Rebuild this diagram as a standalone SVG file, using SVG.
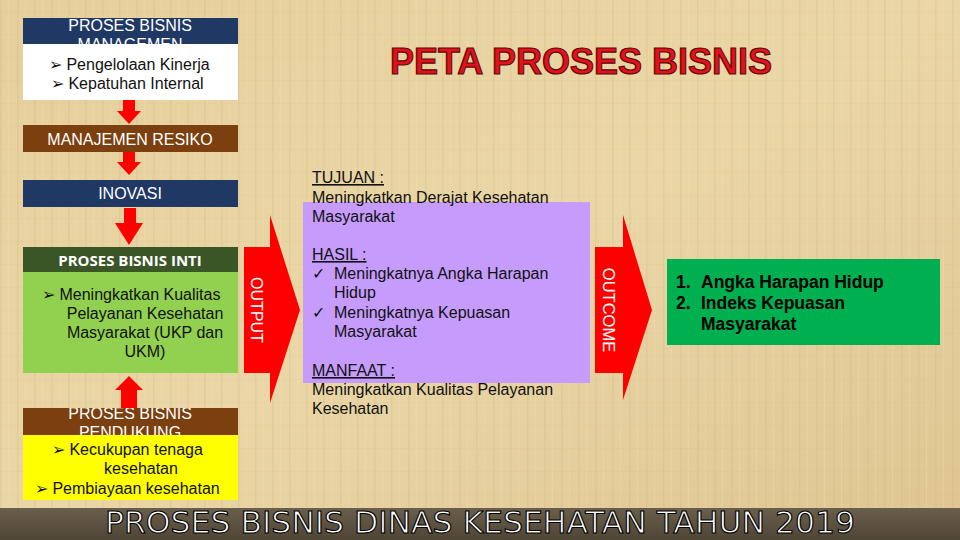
<svg xmlns="http://www.w3.org/2000/svg" width="960" height="540" viewBox="0 0 960 540">
<defs>
<style>
.t{font-family:"Liberation Sans",Arial,sans-serif;font-size:16px;fill:#111}
.w{font-family:"Liberation Sans",Arial,sans-serif;font-size:16px;fill:#fff}
.c{text-anchor:middle}
.u{text-decoration:underline}
.b{font-family:"Liberation Sans",Arial,sans-serif;font-size:17.5px;font-weight:bold;fill:#000}
.arr{fill:#ff0000}
</style>
<linearGradient id="bg" x1="0" y1="0" x2="1" y2="1">
<stop offset="0" stop-color="#e6cf9c"/>
<stop offset="0.5" stop-color="#ead6a6"/>
<stop offset="1" stop-color="#dec591"/>
</linearGradient>
<pattern id="tex" width="17" height="23" patternUnits="userSpaceOnUse">
<rect x="0" y="0" width="1.5" height="23" fill="#c9ad74" opacity="0.22"/>
<rect x="8" y="0" width="1" height="23" fill="#f3e3b8" opacity="0.3"/>
<rect x="0" y="11" width="17" height="1" fill="#cdb27a" opacity="0.1"/>
</pattern>
<linearGradient id="ban" x1="0" y1="0" x2="0" y2="1">
<stop offset="0" stop-color="#6a5f4c"/>
<stop offset="1" stop-color="#4f4535"/>
</linearGradient>
<clipPath id="c1"><rect x="23" y="18" width="215" height="26"/></clipPath>
<clipPath id="c2"><rect x="23" y="408" width="215" height="27"/></clipPath>
</defs>
<rect width="960" height="540" fill="url(#bg)"/>
<rect width="960" height="540" fill="url(#tex)"/>

<g id="title">
<text x="581" y="74" text-anchor="middle" textLength="382" lengthAdjust="spacingAndGlyphs" font-family="Liberation Sans,Arial,sans-serif" font-weight="bold" font-size="37" fill="#e4101a" stroke="#5a0a0a" stroke-width="1.2">PETA PROSES BISNIS</text>
</g>

<g id="connectors">
<polygon class="arr" points="123,100 135,100 135,111 141,111 129,124 117,111 123,111"/>
<polygon class="arr" points="123,152 135,152 135,162 141,162 129,175 117,162 123,162"/>
<polygon class="arr" points="124,208 136,208 136,223 143,223 129,245 115,223 124,223"/>
<polygon class="arr" points="129,376 143,390 137,390 137,408 121,408 121,390 115,390"/>
</g>

<g id="node-manajemen">
<rect x="23" y="18" width="215" height="26" fill="#1f3864"/>
<g clip-path="url(#c1)">
<text class="w c" x="130" y="31">PROSES BISNIS</text>
<text class="w c" x="130" y="50">MANAGEMEN</text>
</g>
<rect x="23" y="44" width="215" height="56" fill="#fff"/>
<text class="t" x="49" y="70">➢ Pengelolaan Kinerja</text>
<text class="t" x="51" y="89">➢ Kepatuhan Internal</text>
</g>

<g id="node-resiko">
<rect x="23" y="125" width="215" height="27" fill="#7b3f10"/>
<text class="w c" x="130" y="145">MANAJEMEN RESIKO</text>
</g>

<g id="node-inovasi">
<rect x="23" y="180" width="215" height="27" fill="#1f3864"/>
<text class="w c" x="130" y="199">INOVASI</text>
</g>

<g id="node-inti">
<rect x="23" y="247" width="215" height="25" fill="#3a5526"/>
<text class="c" x="130" y="266" font-family="Open Sans,Liberation Sans,sans-serif" font-weight="bold" font-size="15" fill="#fff">PROSES BISNIS INTI</text>
<rect x="23" y="272" width="215" height="101" fill="#92d050"/>
<text class="t" x="42" y="300">➢  Meningkatkan Kualitas</text>
<text class="t c" x="145" y="319">Pelayanan Kesehatan</text>
<text class="t c" x="145" y="338">Masyarakat (UKP dan</text>
<text class="t c" x="145" y="357">UKM)</text>
</g>

<g id="node-pendukung">
<rect x="23" y="408" width="215" height="27" fill="#7b3f10"/>
<g clip-path="url(#c2)">
<text class="w c" x="130" y="419">PROSES BISNIS</text>
<text class="w c" x="130" y="438">PENDUKUNG</text>
</g>
<rect x="23" y="435" width="215" height="65" fill="#ffff00"/>
<text class="t" x="52" y="455">➢ Kecukupan tenaga</text>
<text class="t c" x="141" y="474">kesehatan</text>
<text class="t" x="35" y="494">➢ Pembiayaan kesehatan</text>
</g>

<g id="node-output">
<polygon fill="#ff0000" points="244,247 270,247 270,215 300,310 270,403 270,373 244,373"/>
<text x="257" y="310" text-anchor="middle" transform="rotate(90 257 310)" font-family="Liberation Sans,Arial,sans-serif" font-size="16" fill="#fff" dy="6">OUTPUT</text>
</g>

<g id="node-hasil">
<rect x="303" y="202" width="287" height="181" fill="#c59bfb"/>
<text class="t u" x="312" y="183">TUJUAN :</text>
<text class="t" x="312" y="203">Meningkatkan Derajat Kesehatan</text>
<text class="t" x="312" y="222">Masyarakat</text>
<text class="t u" x="312" y="260">HASIL :</text>
<text class="t" x="312" y="279">✓</text>
<text class="t" x="334" y="279">Meningkatnya Angka Harapan</text>
<text class="t" x="334" y="298">Hidup</text>
<text class="t" x="312" y="318">✓</text>
<text class="t" x="334" y="318">Meningkatnya Kepuasan</text>
<text class="t" x="334" y="337">Masyarakat</text>
<text class="t u" x="312" y="376">MANFAAT :</text>
<text class="t" x="312" y="395">Meningkatkan Kualitas Pelayanan</text>
<text class="t" x="312" y="414">Kesehatan</text>
</g>

<g id="node-outcome">
<polygon fill="#ff0000" points="595,247 623,247 623,215 652,310 623,400 623,373 595,373"/>
<text x="609" y="310" text-anchor="middle" transform="rotate(90 609 310)" font-family="Liberation Sans,Arial,sans-serif" font-size="16.5" fill="#fff" dy="6">OUTCOME</text>
</g>

<g id="node-indikator">
<rect x="667" y="259" width="273" height="86" fill="#00b050"/>
<text class="b" x="676" y="288">1.</text>
<text class="b" x="701" y="288">Angka Harapan Hidup</text>
<text class="b" x="676" y="309">2.</text>
<text class="b" x="701" y="309">Indeks Kepuasan</text>
<text class="b" x="701" y="330">Masyarakat</text>
</g>

<g id="banner">
<rect x="0" y="508" width="960" height="32" fill="url(#ban)"/>
<text x="105" y="533" textLength="750" lengthAdjust="spacingAndGlyphs" font-family="DejaVu Sans,sans-serif" font-stretch="condensed" font-size="30" fill="#fff" stroke="#000" stroke-width="1">PROSES BISNIS DINAS KESEHATAN TAHUN 2019</text>
</g>
</svg>
